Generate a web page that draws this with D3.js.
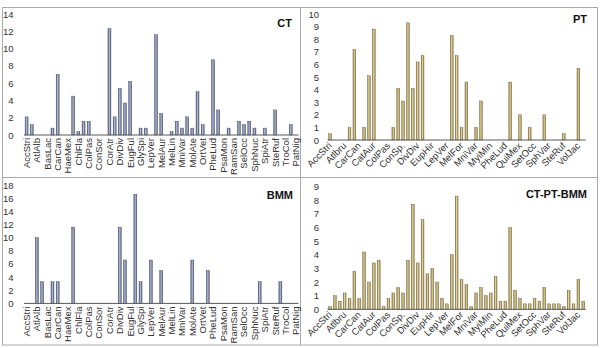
<!DOCTYPE html>
<html>
<head>
<meta charset="utf-8">
<script src="https://cdn.jsdelivr.net/npm/d3@7"></script>
<style>
  body { margin: 0; background: #fff; }
  svg { display: block; font-family: "Liberation Sans", Arial, sans-serif; }
</style>
</head>
<body>
<svg id="chart" width="600" height="348"></svg>
<script>
// labels shown on the category axis (every 2nd slot for CT/BMM, every 3rd for PT)
const ctLabels = ["AccStri","AtlAlb","BasLac","CarCan","HaeMex","ChlFla","ColPas","ConSor","CorAtr",
  "DivDiv","EugFul","GlySpi","LepVer","MelAur","MelLin","MniVar","MolAte","OrtVet","PheLud",
  "PsaMon","RamSan","SelOcc","SphNuc","SpiAtr","SteRuf","TroCol","PatNig"];
const ptLabels = ["AccStri","Atlbru","CarCan","CatAur","ColPas","ConSp.","DivDiv","EupHir","LepVer",
  "MelFor","MniVar","MyiMin","PheLud","QuiMex","SetOcc","SphVar","SteRuf","VolJac"];

const ctValues = [2.1,1.2,0,0,0,0.8,7.0,0,0,4.5, 0.4,1.6,1.6,0,0,0,12.3,2.1,5.4,3.7,
  6.2,0,0.8,0.8,0,11.6,2.5,0,0.4,1.6, 0.8,2.1,0.8,5.0,1.2,0,8.7,2.9,0,0.8,
  0,1.6,1.2,1.6,0.8,0,0.8,0,2.9,0, 0,1.2,0];
const bmmValues = [0,0,10,3.3,0,3.3,3.3,0,0,11.6, 0,0,0,0,0,0,0,0,11.6,6.6,
  0,16.6,3.3,0,6.6,0,5.0,0,0,0, 0,0,6.6,0,0,5.0,0,0,0,0,
  0,0,0,0,0,3.3,0,0,0,3.3, 0,0,0];
const ptValues = [0.5,0,0,0,1.0,7.2,0,1.0,5.1,8.8, 0,0,0,1.0,4.1,3.1,9.3,4.1,6.2,6.7,
  0,0,0,0,0,8.3,6.7,1.0,4.6,0, 1.0,3.1,0,0,0,0,0,4.6,0,2.0,
  0,1.0,0,0,2.0,0,0,0,0.5,0, 0,5.7,0];
const allValues = [0.2,1.0,0.6,1.2,0.8,2.8,0.8,4.2,2.0,3.4, 3.6,0.2,0.8,1.2,1.6,1.2,3.6,7.7,3.4,6.6,
  2.6,3.0,2.0,0.8,0.4,4.0,8.3,2.2,1.8,0.2, 1.2,1.6,1.0,1.2,2.4,0.6,0.6,6.0,1.4,0.8,
  0.4,0.4,0.8,0.6,1.6,0.4,0.4,0.4,0.2,1.4, 0.4,2.2,0.6];

const ctTicks = [0,2,4,6,8,10,12,14];
const bmmTicks = [0,2,4,6,8,10,12,14,16,18];
const ptTicks = [0,1,2,3,4,5,6,7,8,9,10];
const allTicks = [0,1,2,3,4,5,6,7,8,9];

const svg = d3.select("#chart");
const defs = svg.append("defs");

function addGrad(id, stops) {
  const g = defs.append("linearGradient").attr("id", id)
    .attr("x1", "0%").attr("x2", "100%").attr("y1", "0%").attr("y2", "0%");
  stops.forEach(s => g.append("stop").attr("offset", s[0]).attr("stop-color", s[1]));
}
addGrad("gBlue", [["0%", "#4c5674"], ["45%", "#b3bbd3"], ["100%", "#56607e"]]);
addGrad("gTan", [["0%", "#84723f"], ["45%", "#e4d29a"], ["100%", "#8f7d4b"]]);

// frame
svg.append("rect").attr("x", 2.5).attr("y", 7.5).attr("width", 595).attr("height", 337.5)
  .attr("fill", "none").attr("stroke", "#a9a9a9");
svg.append("line").attr("x1", 300.5).attr("x2", 300.5).attr("y1", 7.5).attr("y2", 345)
  .attr("stroke", "#a9a9a9");
svg.append("line").attr("x1", 2.5).attr("x2", 597.5).attr("y1", 177.5).attr("y2", 177.5)
  .attr("stroke", "#a9a9a9");

function drawPanel(p) {
  const g = svg.append("g");
  const n = p.values.length;

  const x = d3.scaleBand().domain(d3.range(n)).range([p.x0, p.x1]);
  const y = d3.scaleLinear().domain([0, d3.max(p.ticks)]).range([p.yBase, p.yTop]);

  g.append("g")
    .attr("transform", `translate(${p.tickX},0)`)
    .call(d3.axisLeft(y).tickValues(p.ticks).tickSize(0).tickPadding(0))
    .call(a => a.select(".domain").remove())
    .call(a => a.selectAll("text").attr("fill", "#333").style("font-size", "9.5px")
      .style("font-family", "'Liberation Sans', Arial, sans-serif"));

  const bw = x.bandwidth() * 0.58;
  g.selectAll("rect.bar")
    .data(p.values.map((v, i) => ({ i, v })).filter(d => d.v > 0))
    .enter().append("rect")
    .attr("class", "bar")
    .attr("x", d => x(d.i) + (x.bandwidth() - bw) / 2)
    .attr("y", d => y(d.v))
    .attr("width", bw)
    .attr("height", d => y(0) - y(d.v))
    .attr("fill", p.fill)
    .attr("stroke", p.stroke)
    .attr("stroke-width", 0.4);

  g.append("line")
    .attr("x1", p.x0).attr("x2", p.x1)
    .attr("y1", y(0)).attr("y2", y(0))
    .attr("stroke", "#595959").attr("stroke-width", 1);

  const xAxis = g.append("g")
    .attr("transform", `translate(0,${p.labelY})`)
    .call(d3.axisBottom(x)
      .tickValues(d3.range(0, n, p.step).filter(i => i / p.step < p.labels.length))
      .tickSize(0).tickPadding(0)
      .tickFormat(i => p.labels[i / p.step]));
  xAxis.select(".domain").remove();
  xAxis.selectAll("text")
    .attr("fill", "#333")
    .style("font-size", "9.5px")
    .style("font-family", "'Liberation Sans', Arial, sans-serif")
    .attr("text-anchor", "end")
    .attr("y", 0)
    .attr("dy", "0.35em")
    .attr("transform", `rotate(${p.angle})`);

  g.append("text")
    .attr("x", p.titleX).attr("y", p.titleY)
    .attr("text-anchor", "end")
    .attr("font-weight", "bold")
    .attr("font-size", "11px")
    .attr("fill", "#111")
    .text(p.title);
}

drawPanel({ title: "CT", titleX: 292, titleY: 26.5, values: ctValues, ticks: ctTicks,
  labels: ctLabels, step: 2, angle: -90, x0: 24, x1: 298.5, yTop: 14, yBase: 135,
  tickX: 13.5, labelY: 138, fill: "url(#gBlue)", stroke: "#3c4560" });
drawPanel({ title: "PT", titleX: 587, titleY: 22.5, values: ptValues, ticks: ptTicks,
  labels: ptLabels, step: 3, angle: -45, x0: 327.6, x1: 585.7, yTop: 14, yBase: 140,
  tickX: 319, labelY: 144, fill: "url(#gTan)", stroke: "#6e5f36" });
drawPanel({ title: "BMM", titleX: 293, titleY: 199, values: bmmValues, ticks: bmmTicks,
  labels: ctLabels, step: 2, angle: -90, x0: 24, x1: 298.5, yTop: 185, yBase: 303.4,
  tickX: 13.5, labelY: 306.5, fill: "url(#gBlue)", stroke: "#3c4560" });
drawPanel({ title: "CT-PT-BMM", titleX: 587, titleY: 197.5, values: allValues, ticks: allTicks,
  labels: ptLabels, step: 3, angle: -45, x0: 327.6, x1: 585.7, yTop: 186.5, yBase: 309.3,
  tickX: 319, labelY: 313, fill: "url(#gTan)", stroke: "#6e5f36" });
</script>
</body>
</html>
